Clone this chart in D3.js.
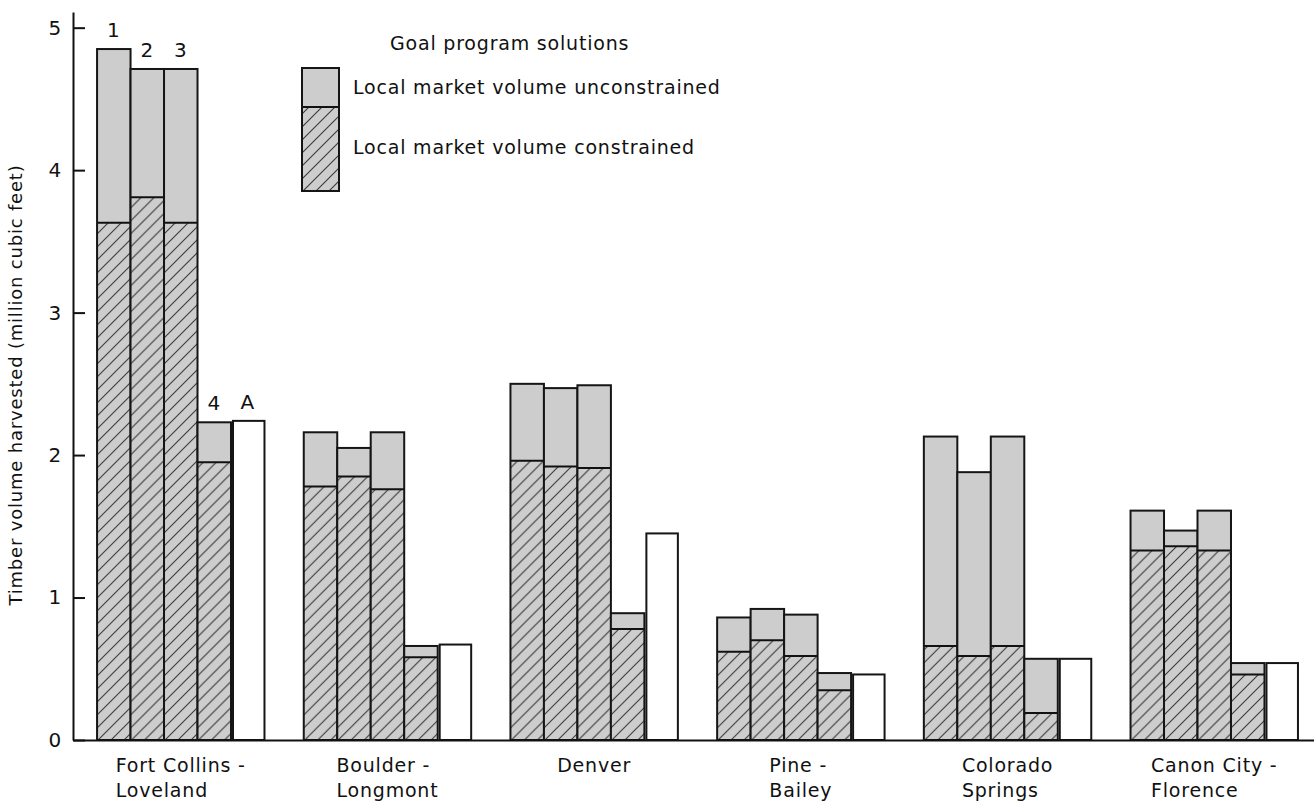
<!DOCTYPE html>
<html>
<head>
<meta charset="utf-8">
<script src="https://cdn.jsdelivr.net/npm/d3@7"></script>
<style>
  body { margin: 0; background: #fff; }
  text { font-family: "DejaVu Sans", sans-serif; fill: #111; letter-spacing: 0.8px; }
</style>
</head>
<body>
<div id="chart"></div>
<script>
// markets (two-line labels) and bar keys
const markets = [
    ["Fort Collins -", "Loveland"],
    ["Boulder -", "Longmont"],
    ["Denver"],
    ["Pine -", "Bailey"],
    ["Colorado", "Springs"],
    ["Canon City -", "Florence"]
];
const solutions = ["1", "2", "3", "4"];
const barKeys = ["1", "2", "3", "4", "A"];

// goal program solutions, local market volume unconstrained (full bar height)
const unconstrained = [
    [4.85, 4.71, 4.71, 2.23],
    [2.16, 2.05, 2.16, 0.66],
    [2.50, 2.47, 2.49, 0.89],
    [0.86, 0.92, 0.88, 0.47],
    [2.13, 1.88, 2.13, 0.57],
    [1.61, 1.47, 1.61, 0.54]
];
// local market volume constrained (hatched part)
const constrained = [
    [3.63, 3.81, 3.63, 1.95],
    [1.78, 1.85, 1.76, 0.58],
    [1.96, 1.92, 1.91, 0.78],
    [0.62, 0.70, 0.59, 0.35],
    [0.66, 0.59, 0.66, 0.19],
    [1.33, 1.36, 1.33, 0.46]
];
// actual harvest (bar A)
const actual = [2.24, 0.67, 1.45, 0.46, 0.57, 0.54];

const yTicks = [0, 1, 2, 3, 4, 5];
const yTitle = "Timber volume harvested (million cubic feet)";
const legendTitle = "Goal program solutions";
const legendItems = ["Local market volume unconstrained", "Local market volume constrained"];

let margin = {top: 0, right: 0, bottom: 64, left: 73};
let width = 1314 - margin.left - margin.right;
let height = 804 - margin.top - margin.bottom;

let svg = d3.select("#chart").append("svg")
    .attr("width", 1314)
    .attr("height", 804);

// patterns: hatched gray
let defs = svg.append("defs");
let hatch = defs.append("pattern")
    .attr("id", "hatch")
    .attr("patternUnits", "userSpaceOnUse")
    .attr("width", 13).attr("height", 13);
hatch.append("rect").attr("width", 13).attr("height", 13).attr("fill", "#cdcdcd");
hatch.append("path")
    .attr("d", "M-1,1 l2,-2 M0,13 l13,-13 M12,14 l2,-2")
    .attr("stroke", "#3a3a3a")
    .attr("stroke-width", 1.1);

let g = svg.append("g")
    .attr("transform", "translate(" + margin.left + "," + margin.top + ")");

let names = markets.map(d => d.join(" "));

let x0 = d3.scaleBand()
    .domain(names)
    .range([0, width])
    .paddingInner(0.19)
    .paddingOuter(0.097)
    .align(0.6);

let x1 = d3.scaleBand()
    .domain(barKeys)
    .range([0, x0.bandwidth()]);

let y = d3.scaleLinear()
    .domain([0, 5.11])
    .range([height, 12]);

// build bar rows
let rows = [];
names.forEach((m, i) => {
    solutions.forEach((s, j) => {
        rows.push({market: m, key: s, total: unconstrained[i][j], hatched: constrained[i][j], first: i === 0});
    });
    rows.push({market: m, key: "A", total: actual[i], hatched: null, first: i === 0});
});

let bars = g.selectAll(".bar")
    .data(rows)
    .enter().append("g")
    .attr("class", "bar")
    .attr("transform", d => "translate(" + (x0(d.market) + x1(d.key)) + ",0)");

let bw = x1.bandwidth();

// gray top section
bars.filter(d => d.hatched !== null).append("rect")
    .attr("width", bw)
    .attr("y", d => y(d.total))
    .attr("height", d => y(d.hatched) - y(d.total))
    .attr("fill", "#cdcdcd");

// hatched section
bars.filter(d => d.hatched !== null).append("rect")
    .attr("width", bw)
    .attr("y", d => y(d.hatched))
    .attr("height", d => y(0) - y(d.hatched))
    .attr("fill", "url(#hatch)");

// divider line
bars.filter(d => d.hatched !== null).append("line")
    .attr("x1", 0).attr("x2", bw)
    .attr("y1", d => y(d.hatched)).attr("y2", d => y(d.hatched))
    .attr("stroke", "#111")
    .attr("stroke-width", 2);

// outline (white fill for A)
bars.append("rect")
    .attr("x", d => d.key === "A" ? 2 : 0)
    .attr("width", d => d.key === "A" ? bw - 2 : bw)
    .attr("y", d => y(d.total))
    .attr("height", d => y(0) - y(d.total))
    .attr("fill", d => d.key === "A" ? "#fff" : "none")
    .attr("stroke", "#151515")
    .attr("stroke-width", 2);

// solution numbers above the first group
bars.filter(d => d.first).append("text")
    .attr("x", bw / 2)
    .attr("y", d => y(d.total) - 12)
    .attr("text-anchor", "middle")
    .style("font-size", "20px")
    .text(d => d.key);

// axes
let yAxis = d3.axisLeft(y)
    .tickValues(yTicks)
    .tickFormat(d3.format("d"))
    .tickSizeInner(-12)
    .tickSizeOuter(0)
    .tickPadding(11);

let yg = g.append("g").attr("class", "y-axis axis").call(yAxis);
yg.select(".domain").attr("stroke", "#111").attr("stroke-width", 2);
yg.selectAll(".tick line").attr("stroke", "#111").attr("stroke-width", 2);
yg.selectAll(".tick text").style("font-size", "20px").style("font-family", "DejaVu Sans, sans-serif").attr("fill", "#111");

let xAxis = d3.axisBottom(x0).tickSize(0).tickFormat("");
let xg = g.append("g")
    .attr("class", "x-axis axis")
    .attr("transform", "translate(0," + height + ")")
    .call(xAxis);
xg.select(".domain").attr("stroke", "#111").attr("stroke-width", 2);

// market labels, left-aligned lines centred under each group
let labels = g.selectAll(".mlabel")
    .data(markets)
    .enter().append("text")
    .attr("class", "mlabel")
    .attr("y", height + 32)
    .style("font-size", "19px");
labels.selectAll("tspan")
    .data(d => d)
    .enter().append("tspan")
    .attr("x", 0)
    .attr("dy", (d, i) => i === 0 ? 0 : 25)
    .text(d => d);
labels.each(function(d, i) {
    let w = this.getBBox().width;
    let cx = x0(names[i]) + x0.bandwidth() / 2;
    d3.select(this).selectAll("tspan").attr("x", cx - w / 2);
});

// y title
svg.append("text")
    .attr("transform", "translate(22,385) rotate(-90)")
    .attr("text-anchor", "middle")
    .style("font-size", "18px")
    .text(yTitle);

// legend
let legend = svg.append("g").attr("class", "legend");
legend.append("text")
    .attr("x", 390).attr("y", 50)
    .style("font-size", "19px")
    .text(legendTitle);
legend.append("rect")
    .attr("x", 302).attr("y", 68).attr("width", 37).attr("height", 39)
    .attr("fill", "#cdcdcd");
legend.append("rect")
    .attr("x", 302).attr("y", 107).attr("width", 37).attr("height", 84)
    .attr("fill", "url(#hatch)");
legend.append("line")
    .attr("x1", 302).attr("x2", 339).attr("y1", 107).attr("y2", 107)
    .attr("stroke", "#111").attr("stroke-width", 2);
legend.append("rect")
    .attr("x", 302).attr("y", 68).attr("width", 37).attr("height", 123)
    .attr("fill", "none").attr("stroke", "#151515").attr("stroke-width", 2);
legend.selectAll(".litem")
    .data(legendItems)
    .enter().append("text")
    .attr("class", "litem")
    .attr("x", 353)
    .attr("y", (d, i) => 94 + i * 60)
    .style("font-size", "19px")
    .text(d => d);
</script>
</body>
</html>
